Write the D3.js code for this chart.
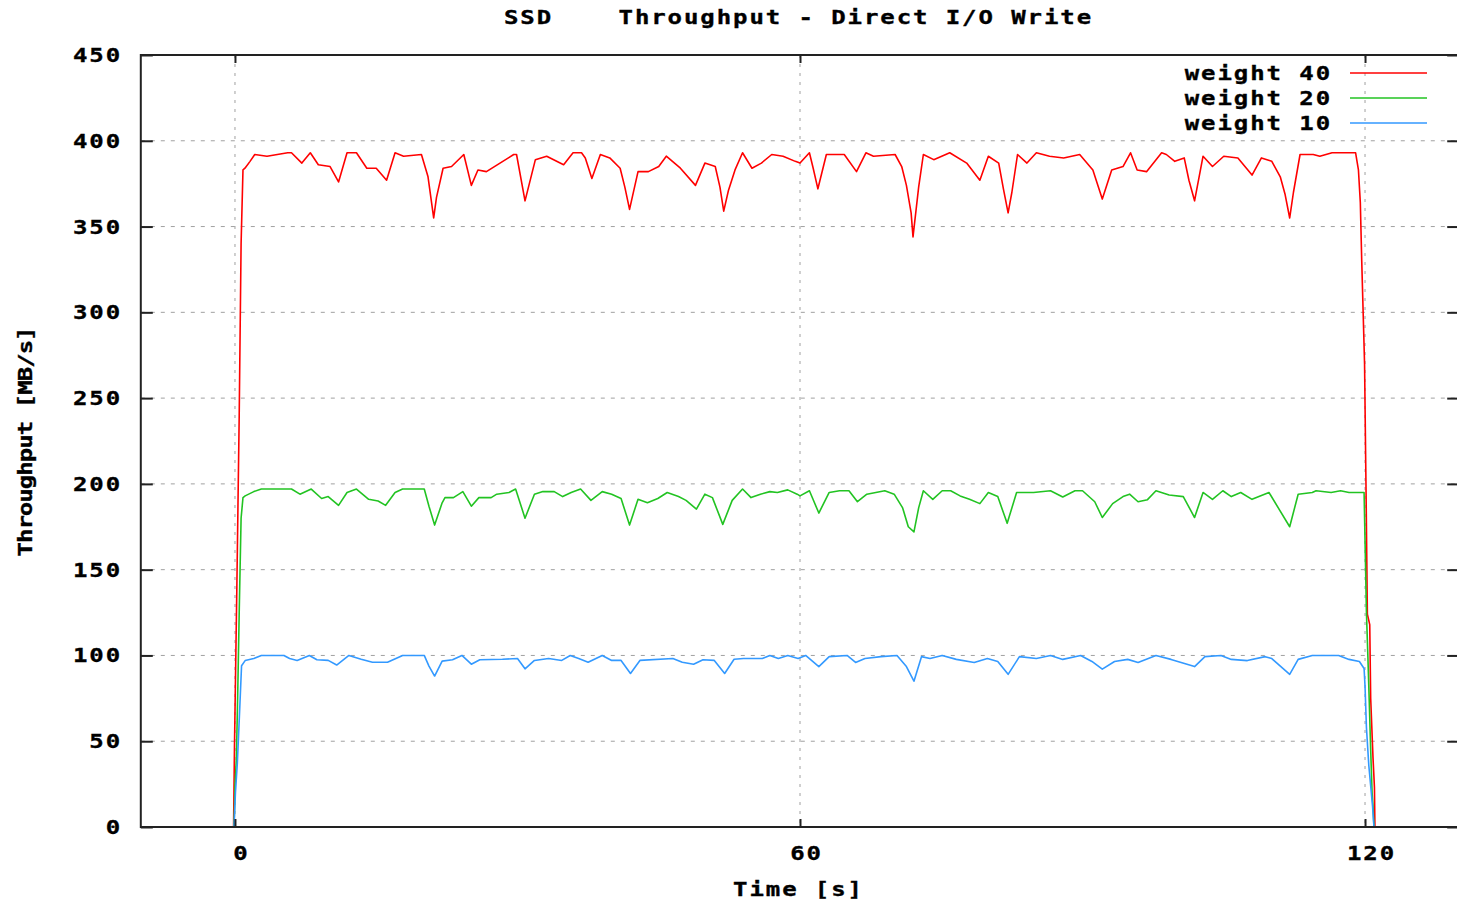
<!DOCTYPE html>
<html>
<head>
<meta charset="utf-8">
<script src="https://cdn.jsdelivr.net/npm/d3@7"></script>
<style>
  body { margin: 0; background: #fff; }
  text { font-family: "DejaVu Sans Mono", monospace; font-weight: bold; font-size: 20px; fill: #000; stroke: #000; stroke-width: 0.35px; letter-spacing: 1.6px; white-space: pre; }
</style>
</head>
<body>
<svg id="chart" width="1457" height="903"></svg>
<script>
// ---- data ----
var titleText = "SSD    Throughput - Direct I/O Write";
var xLabel = "Time [s]";
var yLabel = "Throughput [MB/s]";
var xTicks = [0, 60, 120];
var yTicks = [0, 50, 100, 150, 200, 250, 300, 350, 400, 450];
var seriesNames = ["weight 40", "weight 20", "weight 10"];
var seriesColors = ["#ff0000", "#22c322", "#3399ff"];

var redT = [-0.15, -0.1, -0.05, 0.2, 0.45, 0.65, 0.85, 1.06, 1.6, 2.1, 3.4, 5.6, 6.0, 7.1, 8.0, 8.85, 10.1, 11.0, 11.9, 12.9, 14.0, 15.0, 16.1, 17.0, 17.9, 19.8, 20.5, 21.1, 21.4, 22.1, 23.0, 24.3, 25.1, 25.8, 26.7, 29.6, 29.9, 30.8, 31.9, 33.1, 34.9, 35.9, 36.8, 37.2, 37.9, 38.8, 39.8, 40.9, 41.4, 41.9, 42.8, 43.9, 45.0, 45.8, 47.3, 48.9, 49.9, 51.0, 51.5, 51.9, 52.4, 53.1, 53.9, 54.9, 55.9, 57.0, 58.2, 59.5, 60.0, 61.0, 61.4, 61.9, 62.8, 64.7, 66.0, 67.0, 67.8, 70.1, 70.8, 71.3, 71.8, 72.0, 72.6, 73.1, 74.2, 75.9, 77.7, 79.1, 80.0, 81.1, 81.6, 82.1, 82.5, 83.1, 84.1, 85.1, 86.5, 88.0, 89.7, 91.1, 92.1, 93.1, 94.3, 95.1, 95.8, 96.8, 98.4, 98.9, 99.8, 100.8, 101.3, 101.9, 102.8, 103.8, 105.0, 106.5, 108.0, 109.0, 110.1, 111.0, 111.5, 112.0, 112.4, 113.1, 114.5, 115.2, 116.5, 119.0, 119.3, 119.5, 119.65, 119.8, 119.95, 120.1, 120.25, 120.5, 120.6, 120.85, 121.0, 121.05];
var redV = [0, 24, 48, 140, 240, 340, 383, 384, 388, 392, 391, 393, 393, 387, 393, 386, 385, 376, 393, 393, 384, 384, 377, 393, 391, 392, 379, 355, 367, 384, 385, 392, 374, 383, 382, 392, 392, 365, 389, 391, 386, 393, 393, 390, 378, 392, 390, 384, 373, 360, 382, 382, 385, 391, 384, 374, 387, 385, 373, 359, 371, 383, 393, 384, 387, 392, 391, 388, 387, 393, 384, 372, 392, 392, 382, 393, 391, 392, 385, 374, 358, 344, 373, 392, 389, 393, 387, 377, 391, 387, 372, 358, 370, 392, 387, 393, 391, 390, 392, 383, 366, 383, 385, 393, 383, 382, 393, 392, 388, 390, 377, 365, 391, 385, 391, 390, 380, 390, 388, 379, 369, 355, 370, 392, 392, 391, 393, 393, 383, 364, 330, 300, 270, 200, 124, 118, 75, 40, 23, 0];

var greenT = [-0.1, 0.0, 0.15, 0.3, 0.45, 0.65, 0.85, 1.08, 2.0, 2.8, 6.0, 6.9, 8.1, 9.2, 9.9, 11.0, 11.9, 12.9, 14.2, 15.2, 16.0, 17.0, 17.8, 20.1, 20.6, 21.2, 22.0, 22.3, 23.2, 24.2, 25.1, 25.9, 27.2, 27.8, 29.1, 29.8, 30.8, 31.8, 32.7, 33.9, 34.8, 35.7, 36.7, 37.8, 39.0, 40.0, 41.0, 41.9, 42.8, 43.8, 44.9, 45.9, 47.1, 47.9, 49.0, 49.9, 50.7, 51.8, 52.8, 53.9, 54.8, 55.8, 56.8, 57.6, 58.7, 59.7, 60.0, 61.0, 62.0, 63.1, 64.2, 65.2, 66.1, 67.1, 69.0, 70.0, 70.9, 71.5, 72.1, 72.6, 73.1, 74.1, 75.1, 76.0, 77.0, 78.0, 79.1, 80.0, 81.0, 82.0, 83.0, 84.8, 86.6, 87.9, 89.2, 90.0, 91.3, 92.1, 93.2, 94.3, 95.0, 95.9, 96.9, 97.8, 99.2, 100.7, 101.9, 102.8, 103.8, 104.9, 105.8, 106.8, 108.0, 109.8, 112.0, 112.9, 114.4, 114.8, 116.4, 117.4, 118.3, 119.9, 120.0, 120.15, 120.3, 120.45, 120.6, 120.75, 120.85, 120.95];
var greenV = [0, 24, 40, 80, 125, 180, 192, 193, 195.5, 197, 197, 194, 197, 191.5, 192.6, 187.5, 195, 197, 191, 190, 187.5, 195, 197, 197, 187, 176, 189, 192, 192, 195.5, 187, 192, 192, 194, 195, 197, 180, 194, 195.5, 195.5, 192.6, 195, 197, 190.4, 195.5, 194, 191.5, 176, 191, 189, 191.5, 195, 192.6, 190.4, 185.3, 194, 192, 176.4, 190.4, 197, 192, 194, 195.5, 195, 196.5, 194, 193, 196, 183, 195, 196, 196, 189.6, 194, 196, 194, 186, 175, 172, 186, 196, 191, 196, 196, 193, 191, 188.5, 195, 192.6, 177, 195, 195, 196, 192.4, 196, 196, 189.6, 180.4, 188.5, 192.6, 194, 189.6, 190.8, 196, 193.5, 192.6, 180.4, 195, 191, 196, 192.6, 195, 191, 195, 175, 194, 195, 196, 195, 196, 195, 195, 167, 125, 100, 73, 45, 20, 12, 0];

var blueT = [-0.1, 0.05, 0.25, 0.45, 0.7, 1.08, 2.0, 2.8, 5.2, 5.8, 6.6, 7.9, 8.7, 9.9, 10.8, 12.1, 13.4, 14.6, 16.2, 17.8, 20.1, 20.6, 21.2, 22.0, 23.1, 24.1, 25.1, 26.0, 28.4, 30.0, 30.8, 31.8, 33.3, 34.7, 35.6, 36.5, 37.5, 39.0, 40.0, 41.0, 42.0, 43.0, 46.5, 47.5, 48.7, 49.7, 50.9, 52.0, 53.0, 54.0, 56.0, 56.8, 57.7, 58.7, 59.8, 60.6, 62.0, 63.1, 65.0, 65.9, 66.9, 68.6, 70.3, 71.3, 72.1, 72.9, 73.8, 75.1, 76.6, 78.5, 79.9, 81.0, 82.1, 83.3, 85.1, 86.6, 87.9, 89.8, 91.0, 92.1, 93.4, 94.8, 95.9, 97.8, 99.4, 101.9, 103.0, 104.7, 105.8, 107.5, 109.4, 110.1, 112.0, 112.9, 114.4, 117.2, 118.3, 119.4, 119.9, 120.0, 120.15, 120.4, 120.8, 120.95];
var blueV = [0, 20, 37, 62, 94, 97, 98.2, 100, 100, 98.2, 97.1, 100, 97.5, 97.1, 94.4, 100, 97.8, 96, 96, 100, 100, 93.8, 88, 96.7, 97.5, 100, 94.9, 97.5, 97.8, 98.2, 92.2, 97.1, 98.2, 97.1, 100, 98.2, 96, 100, 97.1, 97.1, 89.5, 97.1, 98.2, 96, 94.9, 97.5, 97.1, 89.5, 97.8, 98.2, 98.2, 100, 98.2, 100, 98.2, 100, 93.5, 99.3, 100, 95.9, 98.2, 99.3, 100, 93.5, 85, 99.3, 98.2, 100, 97.7, 95.9, 98.2, 96.5, 89, 99.3, 98.2, 100, 97.7, 100, 96.5, 92, 96.5, 97.7, 95.9, 100, 97.7, 93.5, 99.3, 100, 97.7, 97, 99.3, 98.2, 89, 97.7, 100, 100, 97.7, 96.5, 92.4, 82, 58, 36, 12, 0];

// ---- layout ----
var svg = d3.select("#chart");
var margin = {top: 55, left: 140.8, bottom: 827, right: 1459.2};
var stretch = 1.2;   // gnuplot's bitmap font is wide

var x = d3.scaleLinear().domain([-10, 130]).range([margin.left, margin.right]);
var y = d3.scaleLinear().domain([0, 450]).range([margin.bottom, margin.top]);

// text placed in a group so it can be widened
function label(parent, px, py, str, anchor, rot) {
    var g = parent.append("g")
        .attr("transform", "translate(" + px + "," + py + ")" + (rot ? " rotate(" + rot + ")" : "") + " scale(" + stretch + ",1)");
    return g.append("text")
        .attr("text-anchor", anchor)
        .text(str);
}

svg.append("defs").append("clipPath").attr("id", "plotclip")
    .append("rect")
    .attr("x", margin.left).attr("y", margin.top)
    .attr("width", margin.right - margin.left).attr("height", margin.bottom - margin.top);

// grid
svg.append("g").selectAll("line")
    .data(yTicks.filter(function(d) { return d > 0 && d < 450; }))
    .enter().append("line")
    .attr("x1", margin.left).attr("x2", margin.right)
    .attr("y1", function(d) { return y(d); }).attr("y2", function(d) { return y(d); })
    .attr("stroke", "#a0a0a0").attr("stroke-width", 1)
    .attr("stroke-dasharray", "4,6");

svg.append("g").selectAll("line")
    .data(xTicks)
    .enter().append("line")
    .attr("x1", function(d) { return x(d); }).attr("x2", function(d) { return x(d); })
    .attr("y1", margin.top).attr("y2", margin.bottom)
    .attr("stroke", "#a0a0a0").attr("stroke-width", 1)
    .attr("stroke-dasharray", "3,6");

// series
var series = [
    {t: redT, v: redV},
    {t: greenT, v: greenV},
    {t: blueT, v: blueV}
];

var line = d3.line()
    .x(function(d) { return x(d[0]); })
    .y(function(d) { return y(d[1]); });

svg.append("g").attr("clip-path", "url(#plotclip)")
    .selectAll("path")
    .data(series)
    .enter().append("path")
    .attr("fill", "none")
    .attr("stroke", function(d, i) { return seriesColors[i]; })
    .attr("stroke-width", 1.6)
    .attr("stroke-linejoin", "round")
    .attr("d", function(d) { return line(d3.zip(d.t, d.v)); });

// border
svg.append("rect")
    .attr("x", margin.left).attr("y", margin.top)
    .attr("width", margin.right - margin.left).attr("height", margin.bottom - margin.top)
    .attr("fill", "none").attr("stroke", "#222").attr("stroke-width", 2);

// axes: ticks inward on all four sides
var yAxisL = d3.axisRight(y).tickValues(yTicks).tickSize(12).tickFormat("");
var yAxisR = d3.axisLeft(y).tickValues(yTicks).tickSize(12).tickFormat("");
var xAxisB = d3.axisTop(x).tickValues(xTicks).tickSize(8).tickFormat("");
var xAxisT = d3.axisBottom(x).tickValues(xTicks).tickSize(8).tickFormat("");

[
    [yAxisL, "translate(" + margin.left + ",0)"],
    [yAxisR, "translate(" + margin.right + ",0)"],
    [xAxisB, "translate(0," + margin.bottom + ")"],
    [xAxisT, "translate(0," + margin.top + ")"]
].forEach(function(a) {
    var g = svg.append("g").attr("transform", a[1]).call(a[0]);
    g.select(".domain").remove();
    g.selectAll(".tick line").attr("stroke", "#222").attr("stroke-width", 2);
});

// tick labels
var labels = svg.append("g");
yTicks.forEach(function(d) {
    label(labels, 122, y(d) + 7, String(d), "end");
});
xTicks.forEach(function(d) {
    label(labels, x(d) + 6.5, 860, String(d), "middle");
});

// titles
label(svg, 798.5, 24, titleText, "middle");
label(svg, 798.5, 896, xLabel, "middle");
label(svg, 32, 442, yLabel, "middle", -90).style("letter-spacing", "-0.8px");

// legend
seriesNames.forEach(function(d, i) {
    var yy = 73 + i * 25;
    label(svg, 1332, yy + 7, d, "end");
    svg.append("line")
        .attr("x1", 1350).attr("x2", 1427)
        .attr("y1", yy).attr("y2", yy)
        .attr("stroke", seriesColors[i])
        .attr("stroke-width", 1.6);
});
</script>
</body>
</html>
